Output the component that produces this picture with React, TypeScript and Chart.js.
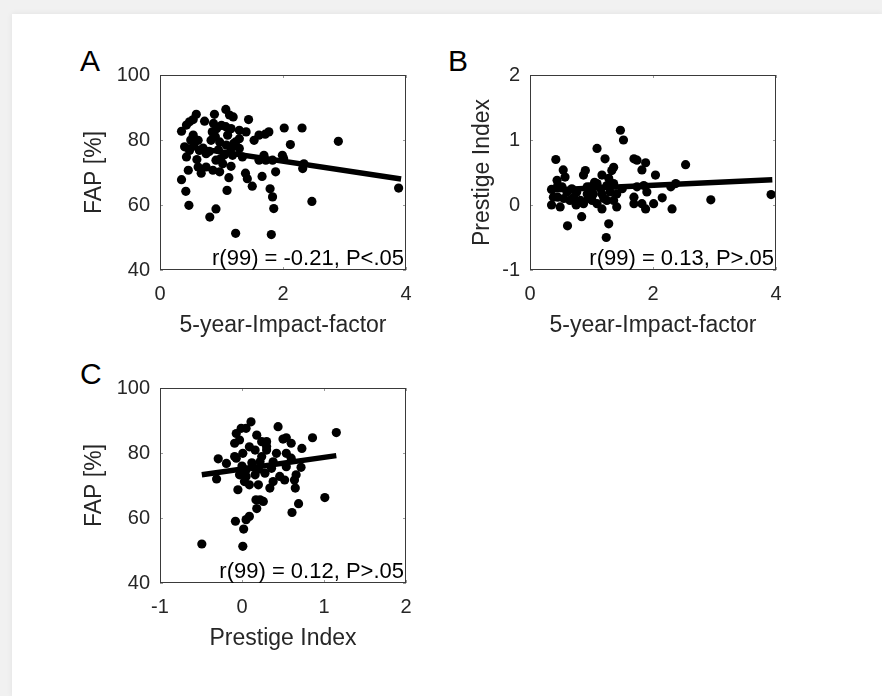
import React, { useEffect, useRef } from "react";
import { Chart, registerables } from "chart.js";
Chart.register(...registerables);

// ---------- Data ----------
// Panel A: 5-year impact factor (x) vs FAP [%] (y)
const impactA = [
  0.35, 0.43, 0.48, 0.54, 0.59, 0.725, 0.885, 0.87, 0.85, 0.92, 1.07, 1.13, 1.19, 1.07, 1.155, 1.29, 1.44, 1.4, 1.61, 1.71,
  1.77, 2.02, 2.31, 2.12, 2.9, 3.88, 0.35, 0.42, 0.47, 0.81, 0.91, 1.23, 1.81, 2.47, 1.09, 1.12, 1.5, 1.39, 1.42, 1.66,
  1.79, 1.83, 1.85, 1.88, 0.46, 0.62, 0.67, 0.75, 0.86, 0.97, 1.02, 1.155, 0.43, 0.48, 0.62, 0.64, 0.75, 0.97, 0.99, 1.08,
  1.155, 1.23, 1.29, 1.18, 1.34, 1.69, 1.72, 1.99, 2.01, 2.34, 2.32, 1.53, 1.61, 1.83, 1.1, 1.29, 0.4, 0.54, 0.83, 0.91,
  0.55, 0.7, 0.8, 0.95, 1.05, 1.2, 0.6, 0.9, 1.0, 0.5,
];
const fapA = [
  82.7, 84.6, 85.6, 86.3, 87.9, 85.8, 87.9, 85.1, 82.5, 83.5, 89.4, 87.7, 87.1, 84.1, 83.5, 83.0, 86.3, 82.5, 81.5, 81.8,
  82.5, 83.7, 83.7, 78.6, 79.6, 65.2, 67.8, 64.2, 59.9, 56.3, 58.8, 51.3, 50.9, 61.1, 64.5, 68.4, 65.8, 69.8, 68.1, 68.8,
  65.0, 62.5, 58.9, 70.2, 70.7, 71.7, 69.8, 71.7, 70.7, 70.2, 72.7, 71.9, 74.8, 76.8, 79.9, 76.8, 75.8, 79.4, 74.3, 78.4,
  77.4, 79.4, 77.4, 75.3, 74.8, 75.3, 73.8, 75.3, 74.3, 72.7, 71.2, 79.9, 73.8, 73.8, 81.5, 80.4, 77.9, 81.5, 79.9, 73.8,
  78.5, 77.5, 76.5, 77.0, 75.5, 79.0, 74.0, 81.0, 84.5, 80.0,
];
const fitAx = [0.35, 3.92];
const fitAy = [78.2, 68.0];

// Panel B: 5-year impact factor (x) vs Prestige Index (y)
const impactB = [
  0.42, 0.35, 0.35, 0.49, 0.44, 0.54, 0.57, 0.45, 0.61, 0.84, 0.9, 0.87, 1.09, 1.22, 1.36, 1.33, 1.25, 1.17, 1.28, 1.24,
  1.47, 1.52, 1.69, 1.74, 1.88, 1.82, 2.04, 2.53, 2.37, 2.31, 2.94, 3.92, 1.36, 1.41, 1.69, 1.88, 2.01, 2.15, 1.74, 1.85,
  1.69, 1.82, 0.71, 0.76, 0.65, 0.82, 0.93, 0.98, 1.01, 1.09, 1.17, 1.09, 1.17, 1.25, 0.87, 0.93, 0.6, 0.52, 0.38, 0.68,
  1.41, 1.36, 1.28, 1.03, 1.5, 1.9, 2.29, 0.55, 0.75, 1.15, 1.3, 0.45, 1.2, 0.95, 1.05,
];
const prestigeB = [
  0.7, 0.24, 0.0, -0.03, 0.38, 0.54, 0.43, 0.12, -0.32, -0.18, 0.53, 0.46, 0.87, 0.71, 0.58, 0.53, 0.3, 0.46, -0.29, -0.5,
  1.15, 1.0, 0.71, 0.69, 0.65, 0.54, 0.46, 0.62, 0.33, -0.06, 0.08, 0.16, 0.07, -0.03, 0.12, -0.06, 0.02, 0.11, 0.28, 0.3,
  0.02, 0.02, 0.12, 0.2, 0.07, 0.07, 0.17, 0.28, 0.07, 0.02, -0.06, 0.33, 0.17, 0.07, 0.02, 0.28, 0.2, 0.28, 0.12, 0.25,
  0.17, 0.33, 0.41, 0.17, 0.25, 0.2, 0.28, 0.1, 0.0, 0.25, 0.2, 0.3, 0.1, 0.1, 0.35,
];
const fitBx = [0.35, 3.94];
const fitBy = [0.23, 0.39];

// Panel C: Prestige Index (x) vs FAP [%] (y)
const prestigeC = [
  -0.49, 0.01, -0.08, 0.02, 0.05, 0.09, 0.18, 0.17, 0.26, 0.61, 0.69, 1.01, 1.15, 0.86, 0.73, 0.6, 0.54, 0.5, 0.44, 0.11,
  0.05, -0.01, -0.07, -0.03, 0.18, 0.24, 0.3, 0.42, 0.3, 0.16, -0.09, -0.29, -0.19, -0.31, -0.03, 0.05, 0.13, 0.22, 0.36, 0.38,
  0.54, 0.6, 0.72, 0.66, 0.64, 0.65, 0.52, 0.34, 0.2, 0.09, 0.03, -0.05, 0.05, 0.16, 0.28, 0.38, -0.07, 0.09, 0.01, 0.24,
  0.46, 0.54, 0.22, -0.09, 0.12, 0.2, 0.0, 0.3,
];
const fapC = [
  52.0, 51.3, 59.0, 56.6, 59.5, 60.5, 62.9, 65.6, 65.1, 61.7, 64.4, 66.3, 86.3, 84.7, 81.4, 83.0, 84.7, 84.3, 88.1, 89.6,
  87.6, 87.6, 86.0, 84.0, 85.5, 83.5, 83.5, 79.9, 80.9, 80.9, 78.9, 78.2, 76.8, 72.0, 73.3, 74.8, 75.8, 77.3, 75.3, 77.3,
  75.8, 78.4, 75.6, 73.3, 71.7, 69.2, 71.7, 69.2, 70.2, 70.2, 71.2, 68.7, 72.8, 73.3, 73.8, 71.2, 78.4, 81.9, 79.9, 78.9,
  72.8, 79.9, 65.6, 83.0, 77.0, 75.0, 76.0, 82.0,
];
const fitCx = [-0.49, 1.15];
const fitCy = [73.3, 79.2];

const notes = ["r(99) = -0.21, P<.05", "r(99) = 0.13, P>.05", "r(99) = 0.12, P>.05"];

const FONT = '"Liberation Sans", Arial, Helvetica, sans-serif';
const TEXT = "#262626";
const TICK_SIZE = 20;
const TITLE_SIZE = 23;

const boxPlugin = {
  id: "matlabBox",
  afterDatasetsDraw(chart: any, _args: any, opts: any) {
    const { ctx, chartArea: a, scales } = chart;
    ctx.save();
    // inward ticks on all sides
    ctx.strokeStyle = "#9a9a9a";
    ctx.lineWidth = 1;
    const tl = 3;
    ctx.beginPath();
    scales.x.ticks.forEach((t: any) => {
      const px = Math.round(scales.x.getPixelForValue(t.value)) + 0.5;
      ctx.moveTo(px, a.top);
      ctx.lineTo(px, a.top + tl);
      ctx.moveTo(px, a.bottom);
      ctx.lineTo(px, a.bottom - tl);
    });
    scales.y.ticks.forEach((t: any) => {
      const py = Math.round(scales.y.getPixelForValue(t.value)) + 0.5;
      ctx.moveTo(a.left, py);
      ctx.lineTo(a.left + tl, py);
      ctx.moveTo(a.right, py);
      ctx.lineTo(a.right - tl, py);
    });
    ctx.stroke();
    // box
    ctx.strokeStyle = "#3a3a3a";
    ctx.strokeRect(Math.round(a.left) + 0.5, Math.round(a.top) + 0.5, Math.round(a.right - a.left) - 1, Math.round(a.bottom - a.top) - 1);
    // annotation
    ctx.fillStyle = "#000";
    ctx.font = `22px ${FONT}`;
    ctx.textAlign = "right";
    ctx.textBaseline = "alphabetic";
    ctx.fillText(opts.note, a.right - 2, a.bottom - 5);
    ctx.restore();
  },
};

type PanelProps = {
  xs: number[];
  ys: number[];
  fx: number[];
  fy: number[];
  xMin: number;
  xMax: number;
  xStep: number;
  yMin: number;
  yMax: number;
  yStep: number;
  xTitle: string;
  yTitle: string;
  note: string;
  yTitleX: number; // center x of y title within canvas
  left: number;
  top: number;
};

const CW = 360;
const CH = 300;
const AREA_L = 100;
const AREA_R = 346;
const AREA_T = 35;
const AREA_B = 230;

function Panel(p: PanelProps) {
  const ref = useRef<HTMLCanvasElement | null>(null);
  useEffect(() => {
    if (!ref.current) return;
    const pts = p.xs.map((x, i) => ({ x, y: p.ys[i] }));
    const fit = p.fx.map((x, i) => ({ x, y: p.fy[i] }));
    const tickFont = { family: FONT, size: TICK_SIZE };
    const titleFont = { family: FONT, size: TITLE_SIZE };
    const half = (TITLE_SIZE * 1.2) / 2;
    const chart = new Chart(ref.current, {
      type: "scatter",
      data: {
        datasets: [
          {
            type: "line",
            data: fit,
            borderColor: "#000",
            borderWidth: 5.5,
            pointRadius: 0,
            showLine: true,
            fill: false,
          } as any,
          {
            data: pts,
            pointRadius: 4.6,
            pointHoverRadius: 4.6,
            backgroundColor: "#000",
            borderColor: "#000",
            borderWidth: 0,
          },
        ],
      },
      options: {
        responsive: false,
        animation: false,
        events: [],
        layout: { padding: { top: AREA_T, right: CW - AREA_R, left: 0, bottom: 0 } },
        plugins: {
          legend: { display: false },
          tooltip: { enabled: false },
          matlabBox: { note: p.note },
        } as any,
        scales: {
          x: {
            type: "linear",
            min: p.xMin,
            max: p.xMax,
            afterFit: (s: any) => {
              s.height = CH - AREA_B;
              s.paddingLeft = 0;
              s.paddingRight = 0;
            },
            ticks: { stepSize: p.xStep, padding: 12, color: TEXT, font: tickFont, maxRotation: 0, autoSkip: false },
            grid: { display: false, drawTicks: false },
            border: { display: false },
            title: { display: true, text: p.xTitle, color: TEXT, font: titleFont, padding: { top: 0, bottom: 1 } },
          },
          y: {
            type: "linear",
            min: p.yMin,
            max: p.yMax,
            afterFit: (s: any) => {
              s.width = AREA_L;
              s.paddingTop = 0;
              s.paddingBottom = 0;
            },
            ticks: { stepSize: p.yStep, padding: 10, color: TEXT, font: tickFont, autoSkip: false },
            grid: { display: false, drawTicks: false },
            border: { display: false },
            title: {
              display: true,
              text: p.yTitle,
              color: TEXT,
              font: titleFont,
              padding: { top: p.yTitleX - half, bottom: 0 },
            },
          },
        },
      } as any,
      plugins: [boxPlugin],
    });
    return () => chart.destroy();
  }, []);
  return (
    <canvas
      ref={ref}
      width={CW}
      height={CH}
      style={{ position: "absolute", left: p.left, top: p.top, width: CW, height: CH }}
    />
  );
}

const letterStyle = (left: number, top: number): React.CSSProperties => ({
  position: "absolute",
  left,
  top,
  fontFamily: FONT,
  fontSize: 30,
  lineHeight: "30px",
  color: "#000",
});

export default function App() {
  return (
    <div
      style={{
        position: "absolute",
        left: 0,
        top: 0,
        width: 882,
        height: 696,
        background: "#f1f1f1",
        overflow: "hidden",
      }}
    >
      <div
        style={{
          position: "absolute",
          left: 12,
          top: 14,
          right: 0,
          bottom: 0,
          background: "#fff",
          boxShadow: "0 0 6px rgba(0,0,0,0.07)",
        }}
      />
      <div style={letterStyle(80, 46)}>A</div>
      <div style={letterStyle(448, 46)}>B</div>
      <div style={letterStyle(80, 359)}>C</div>
      <Panel
        xs={impactA}
        ys={fapA}
        fx={fitAx}
        fy={fitAy}
        xMin={0}
        xMax={4}
        xStep={2}
        yMin={40}
        yMax={100}
        yStep={20}
        xTitle="5-year-Impact-factor"
        yTitle="FAP [%]"
        note={notes[0]}
        yTitleX={35}
        left={60}
        top={40}
      />
      <Panel
        xs={impactB}
        ys={prestigeB}
        fx={fitBx}
        fy={fitBy}
        xMin={0}
        xMax={4}
        xStep={2}
        yMin={-1}
        yMax={2}
        yStep={1}
        xTitle="5-year-Impact-factor"
        yTitle="Prestige Index"
        note={notes[1]}
        yTitleX={53}
        left={430}
        top={40}
      />
      <Panel
        xs={prestigeC}
        ys={fapC}
        fx={fitCx}
        fy={fitCy}
        xMin={-1}
        xMax={2}
        xStep={1}
        yMin={40}
        yMax={100}
        yStep={20}
        xTitle="Prestige Index"
        yTitle="FAP [%]"
        note={notes[2]}
        yTitleX={35}
        left={60}
        top={353}
      />
    </div>
  );
}
